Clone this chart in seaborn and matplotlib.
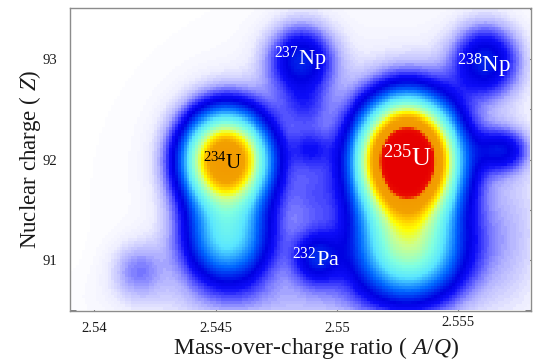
import numpy as np
import pandas as pd
import matplotlib
matplotlib.use("Agg")
import matplotlib.pyplot as plt
from matplotlib.colors import LinearSegmentedColormap
from matplotlib.ticker import FixedLocator, NullFormatter
import seaborn as sns

# ---- data: fitted peak components of the A/Q vs Z identification map ----
peak_names = ["234U", "234U tail", "235U", "235U tail", "237Np", "238Np", "232Pa",
              "shoulder", "mid1", "mid2", "mid3", "faint", "haze", "haze2", "haze3"]
peak_aq    = [2.54543, 2.54548, 2.55290, 2.55295, 2.54852, 2.55612, 2.54915,
              2.55680, 2.54890, 2.54870, 2.54900, 2.54180, 2.55200, 2.54700, 2.55700]
peak_z     = [92.00, 91.20, 92.00, 91.10, 92.98, 92.98, 91.02,
              92.10, 92.12, 92.50, 91.65, 90.90, 91.70, 90.60, 91.20]
peak_amp   = [0.80, 0.30, 1.24, 0.40, 0.155, 0.155, 0.13,
              0.12, 0.065, 0.05, 0.045, 0.06, 0.03, 0.03, 0.025]
peak_sig_aq = [0.00114, 0.00120, 0.00125, 0.00150, 0.00095, 0.00095, 0.00068,
               0.00075, 0.00060, 0.00070, 0.00070, 0.00080, 0.00600, 0.00400, 0.00100]
peak_sig_z  = [0.31, 0.30, 0.364, 0.34, 0.25, 0.25, 0.18,
               0.15, 0.14, 0.15, 0.25, 0.20, 1.10, 0.20, 0.50]

labels      = [r"$^{234}$U", r"$^{235}$U", r"$^{237}$Np", r"$^{238}$Np", r"$^{232}$Pa"]
label_aq    = [2.54449, 2.55190, 2.54741, 2.55494, 2.54815]
label_z     = [91.91, 91.94, 92.943, 92.873, 90.94]
label_color = ["black", "white", "white", "white", "white"]
label_size  = [15, 19, 16, 16.5, 16]

x_ticks = [2.54, 2.545, 2.55, 2.555]
x_ticklabels = ["2.54", "2.545", "2.55", "2.555"]
y_ticks = [91, 92, 93]
y_minor = [90.5, 91.5, 92.5, 93.5]

# ---- density grid built from the components ----
aq_edges = np.arange(2.5390, 2.55806, 0.00012)
z_edges = np.arange(90.50, 93.5101, 0.03)
aq_c = 0.5 * (aq_edges[:-1] + aq_edges[1:])
z_c = 0.5 * (z_edges[:-1] + z_edges[1:])
AQ, Z = np.meshgrid(aq_c, z_c)
D = np.zeros_like(AQ)
for a0, z0, amp, sa, sz in zip(peak_aq, peak_z, peak_amp, peak_sig_aq, peak_sig_z):
    D += amp * np.exp(-0.5 * (((AQ - a0) / sa) ** 2 + ((Z - z0) / sz) ** 2))
df = pd.DataFrame({"aq": AQ.ravel(), "z": Z.ravel(), "w": D.ravel()})

# ---- colour map (white -> blue -> cyan -> yellow -> orange -> red) ----
cmap = LinearSegmentedColormap.from_list("pid", [
    (0.00, (1.00, 1.00, 1.00)),
    (0.02, (0.93, 0.93, 1.00)),
    (0.05, (0.70, 0.70, 1.00)),
    (0.08, (0.35, 0.35, 1.00)),
    (0.11, (0.05, 0.05, 0.97)),
    (0.14, (0.00, 0.00, 0.88)),
    (0.22, (0.00, 0.40, 1.00)),
    (0.32, (0.35, 0.90, 1.00)),
    (0.40, (0.50, 1.00, 0.88)),
    (0.50, (0.80, 1.00, 0.55)),
    (0.56, (1.00, 1.00, 0.00)),
    (0.62, (1.00, 0.78, 0.00)),
    (0.68, (0.95, 0.63, 0.00)),
    (0.84, (0.95, 0.60, 0.00)),
    (0.89, (0.92, 0.05, 0.00)),
    (1.00, (0.90, 0.00, 0.00)),
])

sns.set_theme(style="ticks")
plt.rcParams["font.family"] = ["Liberation Serif", "DejaVu Serif"]
plt.rcParams["mathtext.fontset"] = "custom"
plt.rcParams["mathtext.rm"] = "Liberation Serif"
plt.rcParams["mathtext.it"] = "Liberation Serif:italic"

fig = plt.figure(figsize=(5.37, 3.60), dpi=100)
ax = fig.add_axes([70 / 537, 1 - 310.7 / 360, 460.5 / 537, 302.4 / 360])

sns.histplot(data=df, x="aq", y="z", weights="w", bins=[aq_edges, z_edges],
             cmap=cmap, vmin=0, vmax=1, thresh=None, ax=ax, rasterized=True)

for txt, xa, za, c, s in zip(labels, label_aq, label_z, label_color, label_size):
    ax.text(xa, za, txt, color=c, fontsize=s, ha="left", va="baseline")

ax.set_xlim(aq_edges[0], 2.55797)
ax.set_ylim(90.495, 93.508)
ax.xaxis.set_major_locator(FixedLocator(x_ticks))
ax.set_xticklabels(x_ticklabels)
ax.yaxis.set_major_locator(FixedLocator(y_ticks))
ax.yaxis.set_minor_locator(FixedLocator(y_minor))
ax.yaxis.set_minor_formatter(NullFormatter())
ax.tick_params(axis="both", which="both", direction="in", top=True, right=True,
               length=4, width=0.8, color="#808080", labelsize=10.5,
               labelcolor="#1a1a1a")
ax.tick_params(axis="x", pad=8)
ax.tick_params(axis="y", pad=9)
xt = ax.xaxis.get_major_ticks()
if len(xt) >= 4:
    xt[3].set_pad(4)
for sp in ax.spines.values():
    sp.set_color("#8c8c8c")
    sp.set_linewidth(1.0)

ax.set_xlabel(r"Mass-over-charge ratio ( $\mathit{A/Q}$)", fontsize=17, color="#1a1a1a")
ax.xaxis.set_label_coords(0.535, -0.080)
ax.set_ylabel(r"Nuclear charge ( $\mathit{Z}$)", fontsize=16.5, color="#1a1a1a")
ax.yaxis.set_label_coords(-0.058, 0.5)

fig.savefig("out.png", dpi=100)
